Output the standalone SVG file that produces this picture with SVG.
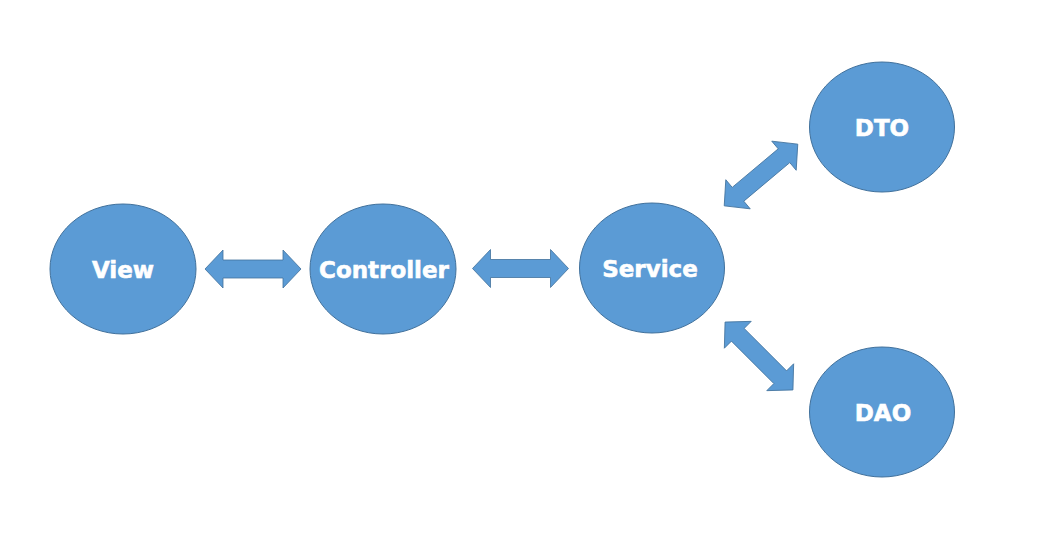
<svg xmlns="http://www.w3.org/2000/svg" width="1038" height="537" viewBox="0 0 1038 537">
  <style>
    .node { fill: #5B9BD5; stroke: #41719C; stroke-width: 1; }
    .label { fill: #FFFFFF; stroke: #FFFFFF; stroke-width: 0.6; font-family: "DejaVu Sans", "Liberation Sans", sans-serif; font-weight: bold; font-size: 23px; text-anchor: middle; }
    .conn { fill: #5B9BD5; stroke: #41719C; stroke-width: 0.8; }
  </style>
  <defs>
    <!-- double-headed block arrow, 96 long, centred on the origin, pointing along x -->
    <path id="dbl-arrow" d="M -48 0 L -30 -19 L -30 -9 L 30 -9 L 30 -19 L 48 0 L 30 19 L 30 9 L -30 9 L -30 19 Z"/>
  </defs>
  <rect width="1038" height="537" fill="#FFFFFF"/>

  <g id="connectors">
    <use href="#dbl-arrow" class="conn" transform="translate(253 269)"/>
    <use href="#dbl-arrow" class="conn" transform="translate(520.5 268.5)"/>
    <use href="#dbl-arrow" class="conn" transform="translate(761 175) rotate(-40)"/>
    <use href="#dbl-arrow" class="conn" transform="translate(759 356) rotate(45)"/>
  </g>

  <g id="view">
    <ellipse class="node" cx="123" cy="269" rx="73" ry="65"/>
    <text class="label" x="123" y="277.5">View</text>
  </g>
  <g id="controller">
    <ellipse class="node" cx="383" cy="269" rx="73" ry="65"/>
    <text class="label" x="384" y="277.5">Controller</text>
  </g>
  <g id="service">
    <ellipse class="node" cx="652" cy="268" rx="72.5" ry="65"/>
    <text class="label" x="650" y="276.5">Service</text>
  </g>
  <g id="dto">
    <ellipse class="node" cx="882" cy="127" rx="72.5" ry="65"/>
    <text class="label" x="882" y="135.5">DTO</text>
  </g>
  <g id="dao">
    <ellipse class="node" cx="882" cy="412" rx="72.5" ry="65"/>
    <text class="label" x="883" y="420.5">DAO</text>
  </g>
</svg>
